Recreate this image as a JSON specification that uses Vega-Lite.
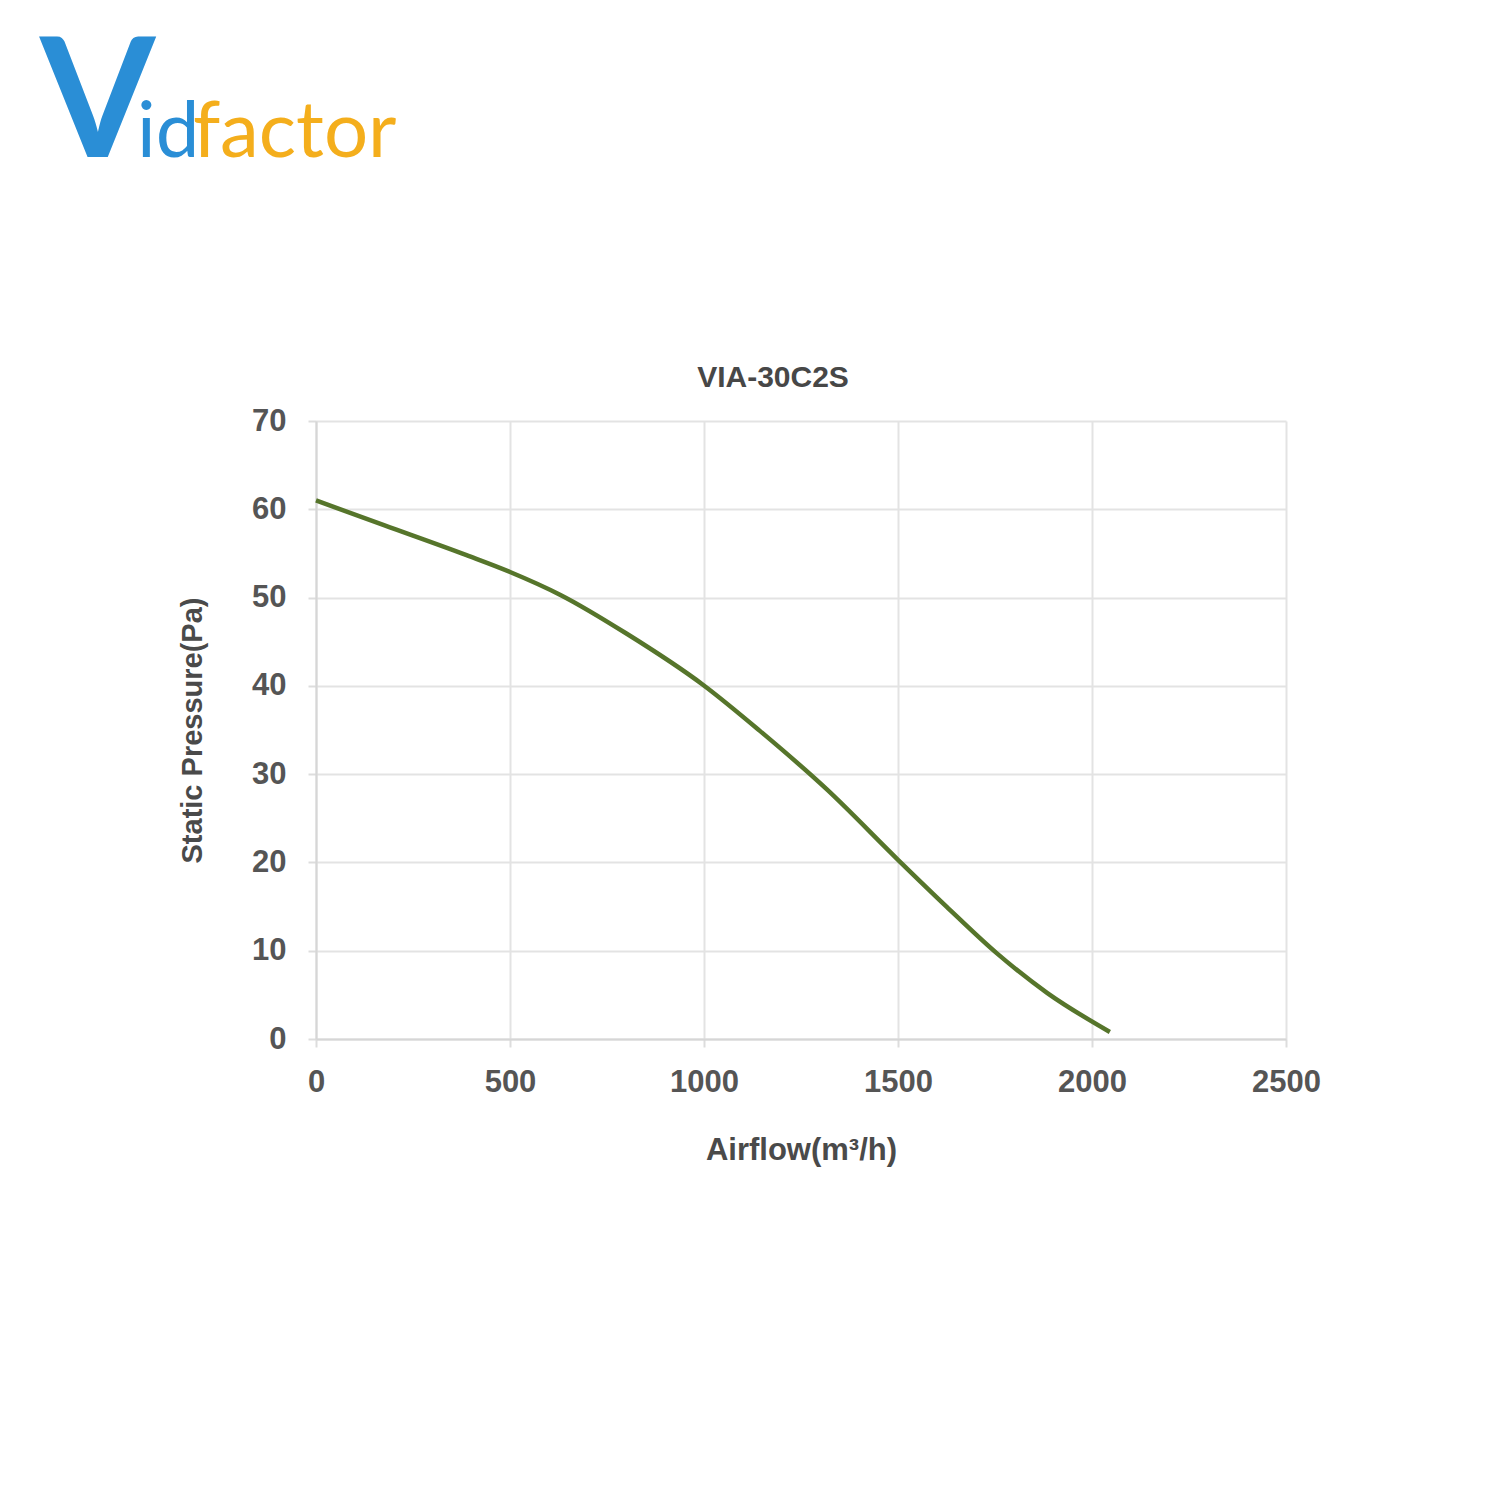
{
  "$schema": "https://vega.github.io/schema/vega-lite/v6.json",
  "background": "white",
  "padding": {"left": 40, "top": 24, "right": 10, "bottom": 10},
  "config": {
    "view": {"stroke": null},
    "font": "Liberation Sans"
  },
  "spacing": 79,
  "vconcat": [
    {
      "width": 970,
      "height": 254,
      "data": {"values": [{"part": "V"}, {"part": "id"}, {"part": "factor"}]},
      "layer": [
        {
          "transform": [{"filter": "datum.part === 'V'"}],
          "mark": {"type": "text", "font": "Lato", "fontSize": 166, "fontWeight": "bold", "color": "#2a8ed6", "align": "left", "baseline": "alphabetic", "dx": -761},
          "encoding": {"text": {"field": "part"}}
        },
        {
          "transform": [{"filter": "datum.part === 'id'"}],
          "mark": {"type": "text", "font": "Lato", "fontSize": 78, "color": "#2a8ed6", "align": "left", "baseline": "alphabetic", "dx": -664},
          "encoding": {"text": {"field": "part"}}
        },
        {
          "transform": [{"filter": "datum.part === 'factor'"}],
          "mark": {"type": "text", "font": "Lato", "fontSize": 78, "color": "#f4ae1c", "align": "left", "baseline": "alphabetic", "dx": -608},
          "encoding": {"text": {"field": "part"}}
        }
      ]
    },
    {
      "width": 970,
      "height": 618,
      "title": {"text": "VIA-30C2S", "fontSize": 30, "font": "Liberation Sans", "fontWeight": "bold", "color": "#474747", "offset": 12, "dx": -28},
      "data": {"values": [
        {"airflow": 0, "pressure": 61.0},
        {"airflow": 175, "pressure": 58.2},
        {"airflow": 388, "pressure": 54.8},
        {"airflow": 500, "pressure": 52.9},
        {"airflow": 630, "pressure": 50.3},
        {"airflow": 801, "pressure": 45.9},
        {"airflow": 998, "pressure": 40.1},
        {"airflow": 1144, "pressure": 34.9},
        {"airflow": 1316, "pressure": 28.3},
        {"airflow": 1500, "pressure": 20.3},
        {"airflow": 1625, "pressure": 15.0},
        {"airflow": 1755, "pressure": 9.7},
        {"airflow": 1885, "pressure": 5.2},
        {"airflow": 2046, "pressure": 0.8}
      ]},
      "mark": {"type": "line", "interpolate": "monotone", "color": "#56752b", "strokeWidth": 4.5},
      "encoding": {
        "x": {
          "field": "airflow", "type": "quantitative",
          "scale": {"domain": [0, 2500], "nice": false},
          "axis": {
            "values": [0, 500, 1000, 1500, 2000, 2500],
            "format": "d",
            "title": "Airflow(m³/h)",
            "titleFontSize": 31, "titleFontWeight": "bold", "titleColor": "#4a4a4a", "titlePadding": 38,
            "labelFontSize": 31, "labelFontWeight": "bold", "labelColor": "#555555", "labelPadding": 20,
            "labelFlush": false,
            "grid": true, "gridColor": "#e3e3e3", "gridWidth": 2,
            "domainColor": "#d6d6d6", "domainWidth": 2,
            "tickColor": "#dddddd", "tickSize": 8, "tickWidth": 2
          }
        },
        "y": {
          "field": "pressure", "type": "quantitative",
          "scale": {"domain": [0, 70], "nice": false},
          "axis": {
            "values": [0, 10, 20, 30, 40, 50, 60, 70],
            "format": "d",
            "title": "Static Pressure(Pa)",
            "titleFontSize": 29, "titleFontWeight": "bold", "titleColor": "#4a4a4a", "titlePadding": 44,
            "labelFontSize": 31, "labelFontWeight": "bold", "labelColor": "#555555", "labelPadding": 22,
            "labelFlush": false,
            "grid": true, "gridColor": "#e3e3e3", "gridWidth": 2,
            "domainColor": "#d6d6d6", "domainWidth": 2,
            "tickColor": "#dddddd", "tickSize": 8, "tickWidth": 2
          }
        }
      }
    }
  ]
}
